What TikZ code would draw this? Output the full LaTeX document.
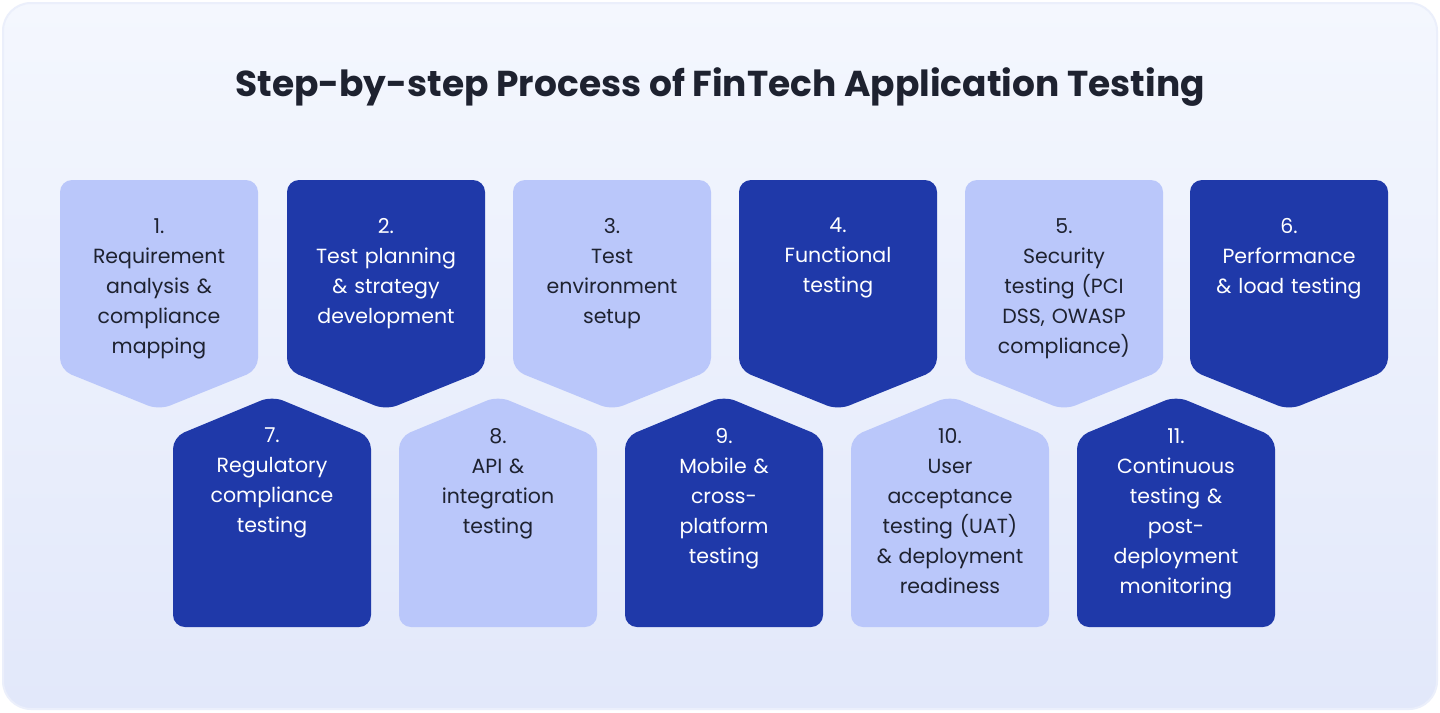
\documentclass[tikz,border=0pt]{standalone}
\usepackage{fontspec}
\setmainfont{Poppins}
\definecolor{lightb}{HTML}{BAC7FA}
\definecolor{darkb}{HTML}{1F39A9}
\definecolor{txt}{HTML}{1E2230}
\definecolor{bgA}{HTML}{F4F7FE}
\definecolor{bgB}{HTML}{E2E8FA}
\begin{document}
\begin{tikzpicture}[x=1pt,y=-1pt,
  lbl/.style={anchor=north,align=center,text width=190pt,font=\fontsize{20.5}{30}\selectfont,inner sep=0pt},
  lt/.style={fill=lightb},
  dk/.style={fill=darkb},
  lttext/.style={lbl,text=txt},
  dktext/.style={lbl,text=white}]
\useasboundingbox (0,0) rectangle (1440,712);
\fill[white] (0,0) rectangle (1440,712);
\shade[top color=bgA,bottom color=bgB,rounded corners=28pt,draw=bgB!70!white,line width=2pt] (3,3) rectangle (1437,709);
\node[font=\bfseries\fontsize{36}{40}\selectfont,text=txt] (title) at (720,87) {Step-by-step Process of FinTech Application Testing};
\newcommand{\myDown}[2]{\fill[#2,rounded corners=12pt] (#1,180) -- (#1+198,180) -- (#1+198,370) -- (#1+99,410) -- (#1,370) -- cycle;}
\newcommand{\myUp}[2]{\fill[#2,rounded corners=12pt] (#1,437) -- (#1+99,396) -- (#1+198,437) -- (#1+198,627) -- (#1,627) -- cycle;}
\myDown{60}{lt}
\myDown{287}{dk}
\myDown{513}{lt}
\myDown{739}{dk}
\myDown{965}{lt}
\myDown{1190}{dk}
\myUp{173}{dk}
\myUp{399}{lt}
\myUp{625}{dk}
\myUp{851}{lt}
\myUp{1077}{dk}
\node[lttext] (s1) at (159,218) {1.\\Requirement\\analysis \&\\compliance\\mapping};
\node[dktext] (s2) at (386,218) {2.\\Test planning\\\& strategy\\development};
\node[lttext] (s3) at (612,218) {3.\\Test\\environment\\setup};
\node[dktext] (s4) at (838,218) {4.\\Functional\\testing};
\node[lttext] (s5) at (1064,218) {5.\\Security\\testing (PCI\\DSS, OWASP\\compliance)};
\node[dktext] (s6) at (1289,218) {6.\\Performance\\\& load testing};
\node[dktext] (s7) at (272,428) {7.\\Regulatory\\compliance\\testing};
\node[lttext] (s8) at (498,428) {8.\\API \&\\integration\\testing};
\node[dktext] (s9) at (724,428) {9.\\Mobile \&\\cross-\\platform\\testing};
\node[lttext] (s10) at (950,428) {10.\\User\\acceptance\\testing (UAT)\\\& deployment\\readiness};
\node[dktext] (s11) at (1176,428) {11.\\Continuous\\testing \&\\post-\\deployment\\monitoring};
\end{tikzpicture}
\end{document}
